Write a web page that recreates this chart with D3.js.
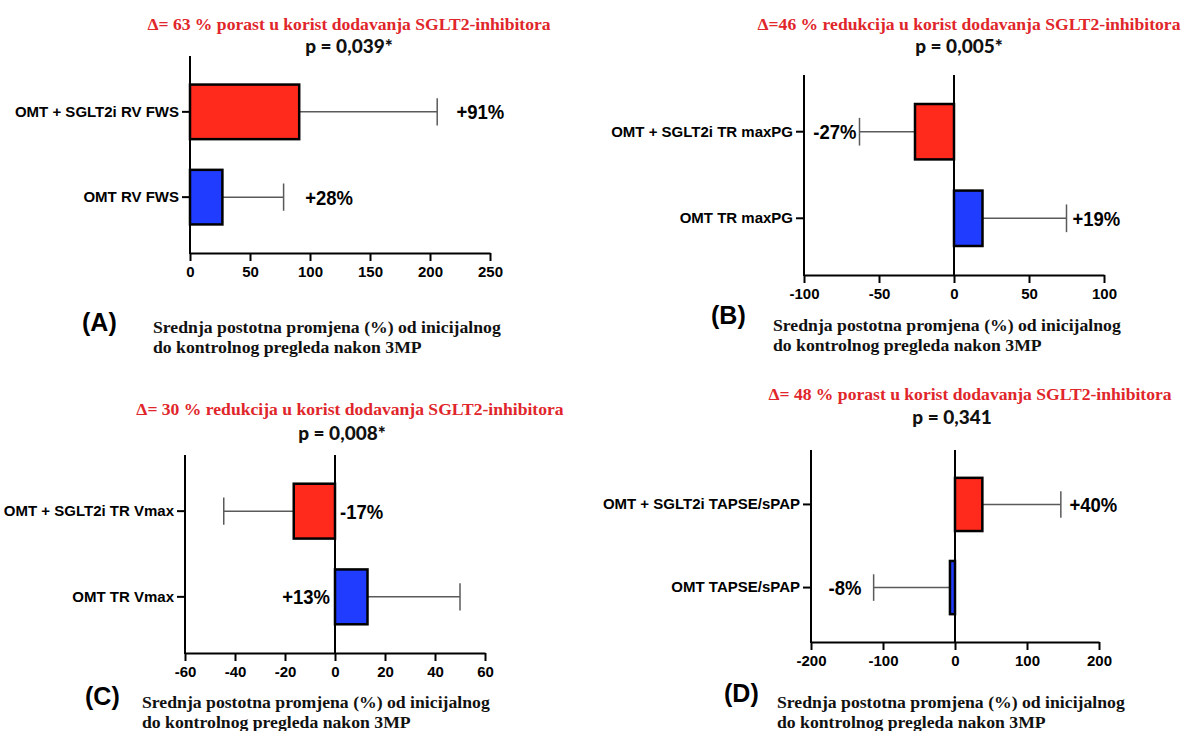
<!DOCTYPE html>
<html><head><meta charset="utf-8">
<script src="https://cdn.jsdelivr.net/npm/d3@7"></script>
<style>
body{margin:0;background:#fff;}
svg{display:block;}
</style></head><body>
<svg id="chart" width="1189" height="731"></svg>
<script>
// ---------- DATA ----------
const panelLetters = ["(A)", "(B)", "(C)", "(D)"];
const titles = [
  "Δ= 63 % porast u korist dodavanja SGLT2-inhibitora",
  "Δ=46 % redukcija u korist dodavanja SGLT2-inhibitora",
  "Δ= 30 % redukcija u korist dodavanja SGLT2-inhibitora",
  "Δ= 48 % porast u korist dodavanja SGLT2-inhibitora"
];
const pValues = ["p = 0,039*", "p = 0,005*", "p = 0,008*", "p = 0,341"];
const subtitleLines = ["Srednja postotna promjena (%) od inicijalnog", "do kontrolnog pregleda nakon 3MP"];

const categoriesA = ["OMT + SGLT2i RV FWS", "OMT RV FWS"];
const meansA = [91, 27];
const sdA = [115, 51];
const pctLabelsA = ["+91%", "+28%"];
const labelAtA = [222, 96];
const labelAnchorA = ["start", "start"];
const ticksA = [0, 50, 100, 150, 200, 250];

const categoriesB = ["OMT + SGLT2i TR maxPG", "OMT TR maxPG"];
const meansB = [-26, 19];
const sdB = [37, 56];
const pctLabelsB = ["-27%", "+19%"];
const labelAtB = [-65, 79];
const labelAnchorB = ["end", "start"];
const ticksB = [-100, -50, 0, 50, 100];

const categoriesC = ["OMT + SGLT2i TR Vmax", "OMT TR Vmax"];
const meansC = [-16.5, 13];
const sdC = [28, 37];
const pctLabelsC = ["-17%", "+13%"];
const labelAtC = [2, -2];
const labelAnchorC = ["start", "end"];
const ticksC = [-60, -40, -20, 0, 20, 40, 60];

const categoriesD = ["OMT + SGLT2i TAPSE/sPAP", "OMT TAPSE/sPAP"];
const meansD = [38, -7];
const sdD = [109, 106];
const pctLabelsD = ["+40%", "-8%"];
const labelAtD = [159, -130];
const labelAnchorD = ["start", "end"];
const ticksD = [-200, -100, 0, 100, 200];

const barColors = ["#ff2a1c", "#1f3cff"];

// ---------- LAYOUT ----------
const layout = [
  {left:190, right:490, top:56,  bottom:253, titleX:349, titleY:30,  pX:349, pY:53,  letterX:82,  letterY:331, subX:153, subY:333},
  {left:804, right:1104,top:75,  bottom:275, titleX:969, titleY:30,  pX:959, pY:53,  letterX:711, letterY:324, subX:773, subY:331},
  {left:185, right:485, top:455, bottom:653, titleX:350, titleY:415, pX:342, pY:440, letterX:85,  letterY:705, subX:142, subY:708},
  {left:811, right:1099,top:450, bottom:642, titleX:970, titleY:400, pX:952, pY:424, letterX:724, letterY:702, subX:777, subY:708}
];

const panels = [
  {cats:categoriesA, means:meansA, sd:sdA, labels:pctLabelsA, labelAt:labelAtA, anchor:labelAnchorA, ticks:ticksA},
  {cats:categoriesB, means:meansB, sd:sdB, labels:pctLabelsB, labelAt:labelAtB, anchor:labelAnchorB, ticks:ticksB},
  {cats:categoriesC, means:meansC, sd:sdC, labels:pctLabelsC, labelAt:labelAtC, anchor:labelAnchorC, ticks:ticksC},
  {cats:categoriesD, means:meansD, sd:sdD, labels:pctLabelsD, labelAt:labelAtD, anchor:labelAnchorD, ticks:ticksD}
];

const svg = d3.select("#chart");
const SANS = "'Liberation Sans', Arial, sans-serif";
const SERIF = "'Liberation Serif', 'Times New Roman', serif";

panels.forEach((p, i) => {
  const L = layout[i];
  const g = svg.append("g");
  const x = d3.scaleLinear().domain(d3.extent(p.ticks)).range([L.left, L.right]);
  const y = d3.scaleBand().domain(p.cats).range([L.top, L.bottom]).paddingInner(0.36).paddingOuter(0.335);
  const capH = y.bandwidth() / 2;

  // title + p
  g.append("text").attr("x", L.titleX).attr("y", L.titleY).attr("text-anchor", "middle")
    .attr("font-family", SERIF).attr("font-weight", "bold").attr("font-size", 17.6)
    .attr("fill", "#e0262b").text(titles[i]);
  g.append("text").attr("x", L.pX).attr("y", L.pY).attr("text-anchor", "middle")
    .attr("font-family", "Lato, 'Open Sans', sans-serif").attr("font-weight", 900).attr("font-size", 19)
    .attr("fill", "#111").text(pValues[i]);

  // x axis
  const xa = g.append("g").attr("transform", `translate(0,${L.bottom})`)
    .call(d3.axisBottom(x).tickValues(p.ticks).tickFormat(d => String(d))
      .tickSize(8).tickSizeOuter(0).tickPadding(5));
  xa.select(".domain").attr("stroke", "#000").attr("stroke-width", 2);
  xa.selectAll(".tick line").attr("stroke", "#000").attr("stroke-width", 2);
  xa.selectAll(".tick text").attr("font-family", SANS).attr("font-weight", "bold")
    .attr("font-size", 15).attr("fill", "#000");

  // y axis
  const ya = g.append("g").attr("transform", `translate(${L.left},0)`)
    .call(d3.axisLeft(y).tickSize(8).tickPadding(3).tickSizeOuter(0));
  ya.select(".domain").remove();
  ya.selectAll(".tick line").attr("stroke", "#000").attr("stroke-width", 2);
  ya.selectAll(".tick text").attr("font-family", SANS).attr("font-weight", "bold")
    .attr("font-size", 15).attr("fill", "#000");
  g.append("line").attr("x1", L.left).attr("x2", L.left).attr("y1", L.top).attr("y2", L.bottom + 1)
    .attr("stroke", "#000").attr("stroke-width", 2);

  // zero line
  if (x.domain()[0] < 0) {
    g.append("line").attr("x1", x(0)).attr("x2", x(0)).attr("y1", L.top).attr("y2", L.bottom)
      .attr("stroke", "#000").attr("stroke-width", 2);
  }

  // error bars (one-sided, outward)
  p.cats.forEach((c, j) => {
    const m = p.means[j];
    const end = m >= 0 ? m + p.sd[j] : m - p.sd[j];
    const cy = y(c) + y.bandwidth() / 2;
    g.append("line").attr("x1", x(m)).attr("x2", x(end)).attr("y1", cy).attr("y2", cy)
      .attr("stroke", "#5a5a5a").attr("stroke-width", 1.5);
    g.append("line").attr("x1", x(end)).attr("x2", x(end)).attr("y1", cy - capH / 2).attr("y2", cy + capH / 2)
      .attr("stroke", "#5a5a5a").attr("stroke-width", 1.5);
  });

  // bars
  g.selectAll("rect.bar").data(p.cats).join("rect").attr("class", "bar")
    .attr("x", (c, j) => x(Math.min(0, p.means[j])))
    .attr("width", (c, j) => Math.abs(x(p.means[j]) - x(0)))
    .attr("y", c => y(c))
    .attr("height", y.bandwidth())
    .attr("fill", (c, j) => barColors[j])
    .attr("stroke", "#000").attr("stroke-width", 2.5);

  // value labels
  p.cats.forEach((c, j) => {
    const t = g.append("text").attr("x", x(p.labelAt[j])).attr("y", y(c) + y.bandwidth() / 2)
      .attr("dy", "0.36em").attr("text-anchor", p.anchor[j])
      .attr("font-family", SANS).attr("font-weight", "bold").attr("font-size", 21)
      .attr("fill", "#000").text(p.labels[j]);
    const w = t.node().getComputedTextLength();
    t.attr("textLength", w * 0.88).attr("lengthAdjust", "spacingAndGlyphs");
  });

  // panel letter
  g.append("text").attr("x", L.letterX).attr("y", L.letterY)
    .attr("font-family", SANS).attr("font-weight", "bold").attr("font-size", 25)
    .attr("fill", "#000").text(panelLetters[i]);

  // subtitle
  subtitleLines.forEach((s, k) => {
    g.append("text").attr("x", L.subX).attr("y", L.subY + k * 19.5)
      .attr("font-family", SERIF).attr("font-weight", "bold").attr("font-size", 17.7)
      .attr("fill", "#111").text(s);
  });
});
</script>
</body></html>
